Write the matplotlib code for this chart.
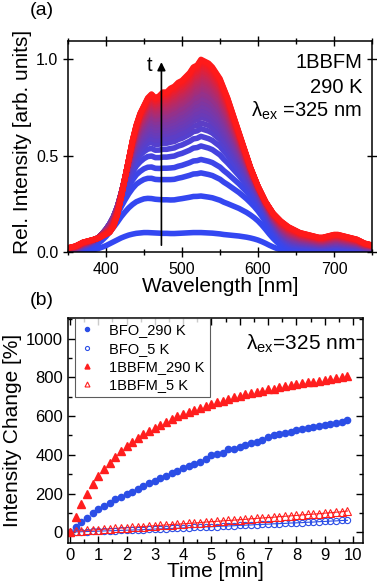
import numpy as np
import matplotlib
matplotlib.use("Agg")
import matplotlib.pyplot as plt
from matplotlib.ticker import MultipleLocator

plt.rcParams['font.family'] = ['Liberation Sans', 'DejaVu Sans']
plt.rcParams['mathtext.fontset'] = 'custom'
plt.rcParams['mathtext.rm'] = 'Liberation Sans'
plt.rcParams['mathtext.it'] = 'Liberation Sans:italic'

# ---- panel (a): PL spectra of 1BBFM at 290 K ----
wavelength = np.arange(350, 751, 5)
# final (red) spectrum, normalised
late_profile = [0.02, 0.025, 0.03, 0.04, 0.05, 0.055, 0.06, 0.065, 0.07, 0.08,
                0.09, 0.10, 0.13, 0.19, 0.28, 0.38, 0.48, 0.58, 0.66, 0.72,
                0.76, 0.80, 0.82, 0.80, 0.81, 0.83, 0.83, 0.85, 0.86, 0.88,
                0.89, 0.91, 0.93, 0.96, 0.97, 1.00, 0.99, 0.98, 0.96, 0.93,
                0.90, 0.85, 0.80, 0.74, 0.68, 0.62, 0.56, 0.50, 0.44, 0.39,
                0.34, 0.30, 0.26, 0.23, 0.20, 0.18, 0.16, 0.145, 0.13, 0.12,
                0.11, 0.10, 0.095, 0.09, 0.085, 0.08, 0.075, 0.075, 0.08, 0.085,
                0.09, 0.09, 0.085, 0.08, 0.075, 0.07, 0.065, 0.055, 0.045, 0.04,
                0.035]
# first (blue) spectrum, normalised
early_profile = [0.0, 0.0, 0.0, 0.01, 0.03, 0.05, 0.08, 0.12, 0.17, 0.24,
                 0.32, 0.42, 0.52, 0.62, 0.72, 0.80, 0.87, 0.92, 0.96, 0.98,
                 1.00, 1.00, 0.99, 0.98, 0.97, 0.96, 0.96, 0.95, 0.95, 0.96,
                 0.97, 0.98, 0.99, 1.00, 1.00, 1.00, 0.99, 0.98, 0.97, 0.95,
                 0.93, 0.90, 0.88, 0.86, 0.84, 0.82, 0.79, 0.76, 0.72, 0.67,
                 0.61, 0.53, 0.44, 0.34, 0.25, 0.17, 0.10, 0.05, 0.02, 0.0,
                 0.0, 0.0, 0.0, 0.0, 0.0, 0.0, 0.0, 0.0, 0.0, 0.0,
                 0.0, 0.0, 0.0, 0.0, 0.0, 0.0, 0.0, 0.0, 0.0, 0.0,
                 0.0]
# peak height of each successive spectrum
peaks = [0.10, 0.29, 0.41, 0.48, 0.55, 0.60, 0.64, 0.67, 0.70, 0.72, 0.74,
         0.76, 0.78, 0.80, 0.82, 0.83, 0.85, 0.86, 0.87, 0.88, 0.89, 0.90,
         0.91, 0.92, 0.93, 0.94, 0.945, 0.95, 0.96, 0.965, 0.97, 0.975,
         0.98, 0.985, 0.99, 0.995, 1.0]

# ---- panel (b): intensity change vs time ----
t_290 = np.round(np.arange(0.2, 9.81, 0.2), 1)
bfo_290 = [26, 55, 75, 100, 118, 136, 150, 170, 184, 198,
           210, 222, 239, 252, 266, 278, 292, 304, 316, 330,
           342, 352, 364, 376, 400, 403, 410, 432, 430, 438,
           452, 460, 465, 478, 490, 500, 505, 512, 520, 528,
           535, 540, 545, 548, 552, 558, 565, 570, 578]
t_bbfm290 = np.round(np.arange(0.0, 9.81, 0.2), 1)
bbfm_290 = [0, 80, 145, 200, 250, 290, 325, 360, 388, 418, 445,
            465, 485, 505, 522, 540, 555, 570, 583, 598, 608,
            620, 632, 642, 652, 660, 672, 680, 690, 700, 705,
            712, 720, 725, 730, 738, 742, 748, 755, 760, 765,
            770, 773, 778, 783, 788, 792, 797, 800, 805]
t_5 = np.round(np.arange(0.0, 9.81, 0.2), 1)
bfo_5 = [0, 2, 3, 4, 5, 6, 7, 8, 9, 10, 11,
         12, 13, 14, 15, 17, 18, 19, 20, 21, 23,
         24, 25, 26, 28, 29, 30, 32, 33, 34, 36,
         37, 38, 40, 41, 42, 44, 45, 46, 48, 49,
         50, 52, 53, 55, 56, 58, 59, 61, 62]
bbfm_5 = [0, 6, 8, 10, 12, 14, 16, 18, 20, 22, 24,
          26, 28, 30, 32, 34, 36, 38, 40, 42, 44,
          46, 48, 50, 53, 55, 57, 59, 61, 63, 65,
          67, 70, 72, 74, 76, 78, 81, 83, 85, 87,
          90, 92, 94, 96, 99, 101, 104, 106, 110]

blue = '#2b4ee6'
red = '#ff1e1e'

fig = plt.figure(figsize=(3.77, 5.87), dpi=100)
ax1 = fig.add_axes([0.180, 0.571, 0.807, 0.359])
ax2 = fig.add_axes([0.180, 0.075, 0.783, 0.383])

# spectra
early = np.array(early_profile)
late = np.array(late_profile)
c_blue = np.array([0.20, 0.28, 0.95])
c_red = np.array([1.0, 0.10, 0.10])
for p in peaks:
    w = (p - peaks[0]) / (peaks[-1] - peaks[0])
    shape = (1 - w) * early + w * late
    f = w ** 3.5
    col = (1 - f) * c_blue + f * c_red
    ax1.plot(wavelength, p * shape, color=col, lw=4, solid_capstyle='butt')

ax1.annotate('', xy=(473, 1.0), xytext=(473, 0.02),
             arrowprops=dict(arrowstyle='-|>', color='black', lw=1.2,
                             mutation_scale=12))
ax1.text(458, 0.97, 't', fontsize=14.5, ha='center', va='center')
ax1.text(0.967, 0.872, '1BBFM', transform=ax1.transAxes, fontsize=14.5,
         ha='right', va='baseline')
ax1.text(0.967, 0.754, '290 K', transform=ax1.transAxes, fontsize=14.5,
         ha='right', va='baseline')
ax1.text(0.967, 0.64, r'$\mathregular{\lambda_{ex}}$ =325 nm',
         transform=ax1.transAxes, fontsize=14.5, ha='right', va='baseline')

ax1.set_xlim(350, 750)
ax1.set_ylim(0, 1.095)
ax1.xaxis.set_major_locator(MultipleLocator(100))
ax1.xaxis.set_minor_locator(MultipleLocator(50))
ax1.yaxis.set_major_locator(MultipleLocator(0.5))
ax1.yaxis.set_major_formatter(plt.FormatStrFormatter('%.1f'))
ax1.tick_params(which='both', direction='inout', top=True, right=True,
                labelsize=11.5, width=1)
ax1.tick_params(which='major', length=7)
ax1.tick_params(which='minor', length=4)
ax1.set_xlabel('Wavelength [nm]', fontsize=15, va='top')
ax1.set_ylabel('Rel. Intensity [arb. units]', fontsize=15)
ax1.yaxis.set_label_coords(-0.118, 0.52)
ax1.xaxis.set_label_coords(0.5, -0.118)

# time traces
ax2.plot(t_5, bfo_5, '-', color=blue, lw=0.8)
ax2.plot(t_5, bbfm_5, '-', color=red, lw=0.8)
ax2.plot(t_290, bfo_290, 'o', color=blue, ms=4.5, mec=blue, label='BFO_290 K')
ax2.plot(t_5, bfo_5, 'o', mfc='none', mec=blue, ms=4.5, mew=0.8,
         label='BFO_5 K')
ax2.plot(t_bbfm290, bbfm_290, '^', color=red, ms=5.5, mec=red,
         label='1BBFM_290 K')
ax2.plot(t_5, bbfm_5, '^', mfc='none', mec=red, ms=5.5, mew=0.8,
         label='1BBFM_5 K')

ax2.text(0.973, 0.858, r'$\mathregular{\lambda_{ex}}$=325 nm',
         transform=ax2.transAxes, fontsize=15, ha='right', va='baseline')

ax2.set_xlim(-0.07, 10.35)
ax2.set_ylim(-55, 1105)
ax2.xaxis.set_major_locator(MultipleLocator(1))
ax2.xaxis.set_minor_locator(MultipleLocator(0.5))
ax2.yaxis.set_major_locator(MultipleLocator(200))
ax2.yaxis.set_minor_locator(MultipleLocator(100))
ax2.tick_params(which='both', direction='in', top=True, right=True,
                labelsize=12, width=1)
ax2.tick_params(which='major', length=5)
ax2.tick_params(which='minor', length=3)
ax2.set_xlabel('Time [min]', fontsize=15, va='top')
ax2.set_ylabel('Intensity Change [%]', fontsize=15)
ax2.yaxis.set_label_coords(-0.156, 0.5)
ax2.xaxis.set_label_coords(0.5, -0.085)

leg = ax2.legend(loc='upper left', bbox_to_anchor=(0.024, 1.0), fontsize=10.5,
                 frameon=True, fancybox=False, edgecolor='#333333',
                 borderaxespad=0, handlelength=1.0, handletextpad=1.0,
                 labelspacing=0.3, borderpad=0.35, markerscale=0.65)
leg.get_frame().set_linewidth(0.8)

fig.text(0.08, 0.982, '(a)', fontsize=14, ha='left', va='center')
fig.text(0.08, 0.488, '(b)', fontsize=14, ha='left', va='center')

for ax in (ax1, ax2):
    for s in ax.spines.values():
        s.set_linewidth(1.1)

fig.savefig('out.png', dpi=100)
